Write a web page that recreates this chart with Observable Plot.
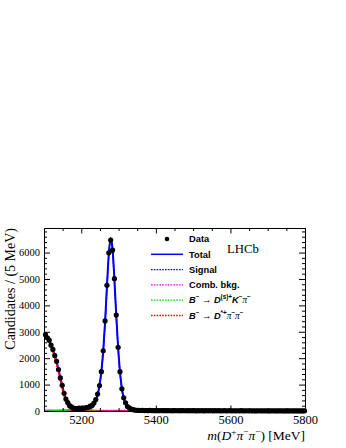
<!DOCTYPE html>
<html><head><meta charset="utf-8">
<script src="https://cdn.jsdelivr.net/npm/d3@7"></script>
<script src="https://cdn.jsdelivr.net/npm/@observablehq/plot@0.6"></script>
<style>html,body{margin:0;padding:0;background:#fff}</style>
</head><body><div id="chart"></div>
<script>
// ---- binning of the data histogram ----
const binLow = 5100, binWidth = 5;
// ---- data: candidates per 5 MeV bin, 5100-5800 MeV ----
const counts = [
  2910, 2790, 2700, 2510, 2350, 2120, 1900, 1590, 1270, 990,
  690, 470, 340, 220, 180, 130, 120, 110, 125, 115,
  130, 125, 150, 160, 200, 230, 320, 450, 660, 980,
  1510, 2300, 3430, 4780, 6010, 6490, 6110, 5030, 3650, 2430,
  1510, 860, 520, 330, 190, 140, 90, 70, 55, 48,
  42, 38, 40, 35, 37, 33, 39, 34, 36, 31,
  35, 33, 37, 30, 34, 32, 36, 29, 33, 31,
  34, 28, 32, 30, 35, 29, 31, 33, 28, 30,
  32, 27, 31, 29, 33, 26, 30, 28, 31, 29,
  27, 31, 28, 30, 26, 29, 31, 27, 28, 30,
  25, 29, 27, 28, 26, 30, 24, 27, 29, 26,
  28, 25, 27, 23, 28, 26, 24, 27, 25, 26,
  23, 27, 24, 25, 22, 26, 24, 25, 23, 26,
  22, 24, 25, 21, 24, 23, 25, 22, 23, 24
];
// ---- fit: total ----
const fitMass = [5100, 5102.5, 5107.5, 5112.5, 5117.5, 5122.5, 5127.5, 5132.5, 5137.5, 5142.5,
  5147.5, 5152.5, 5157.5, 5162.5, 5167.5, 5172.5, 5177.5, 5182.5, 5187.5, 5192.5,
  5197.5, 5202.5, 5207.5, 5212.5, 5217.5, 5222.5, 5227.5, 5232.5, 5237.5, 5242.5,
  5247.5, 5252.5, 5257.5, 5262.5, 5267.5, 5272.5, 5277.5, 5282.5, 5287.5, 5292.5,
  5297.5, 5302.5, 5307.5, 5312.5, 5317.5, 5322.5, 5327.5, 5332.5, 5337.5, 5342.5,
  5347.5, 5375, 5400, 5450, 5500, 5550, 5600, 5650, 5700, 5750, 5800];
const fitTotal = [2930, 2895, 2810, 2690, 2530, 2340, 2130, 1880, 1600, 1290,
  980, 700, 480, 330, 230, 170, 140, 125, 118, 117,
  120, 125, 133, 145, 163, 190, 235, 310, 440, 650,
  1000, 1520, 2300, 3400, 4750, 5980, 6560, 6150, 5000, 3620,
  2420, 1500, 880, 510, 310, 200, 135, 95, 70, 55,
  47, 40, 37, 35, 33, 31, 29.5, 28, 27, 26, 25];
// ---- fit: signal ----
const signalMass = [5100, 5192.5, 5197.5, 5202.5, 5207.5, 5212.5, 5217.5, 5222.5, 5227.5, 5232.5, 5237.5,
  5242.5, 5247.5, 5252.5, 5257.5, 5262.5, 5267.5, 5272.5, 5277.5, 5282.5, 5287.5,
  5292.5, 5297.5, 5302.5, 5307.5, 5312.5, 5317.5, 5322.5, 5327.5, 5332.5, 5337.5,
  5342.5, 5347.5, 5375, 5400, 5450, 5800];
const signalFit = [0, 1, 5, 12, 22, 37, 59, 93, 146, 231, 373,
  596, 956, 1481, 2261, 3361, 4711, 5942, 6522, 6112, 4962,
  3583, 2383, 1463, 843, 473, 273, 164, 99, 59, 34,
  19, 11, 4, 2, 1, 0];
// ---- fit: combinatorial background ----
const combMass = [5100, 5200, 5300, 5400, 5500, 5600, 5700, 5800];
const combFit = [44, 40, 37, 34, 32, 29.5, 27, 25];
// ---- fit: B- -> D(s)+ K- pi- ----
const dkpiMass = [5100, 5102.5, 5107.5, 5112.5, 5117.5, 5122.5, 5127.5, 5132.5, 5137.5, 5142.5,
  5147.5, 5152.5, 5157.5, 5162.5, 5167.5, 5172.5, 5177.5, 5182.5, 5187.5, 5192.5,
  5197.5, 5202.5, 5207.5, 5212.5, 5217.5, 5222.5, 5227.5, 5232.5, 5237.5, 5242.5,
  5247.5, 5252.5, 5300, 5800];
const dkpiFit = [9, 10, 12, 15, 18, 22, 26, 30, 35, 40,
  45, 50, 55, 60, 64, 67, 70, 72, 73, 74,
  74, 73, 71, 68, 64, 58, 50, 40, 28, 15,
  5, 0, 0, 0];
// ---- fit: B- -> D*+ pi- pi- ----
const dstMass = [5100, 5102.5, 5107.5, 5112.5, 5117.5, 5122.5, 5127.5, 5132.5, 5137.5, 5142.5,
  5147.5, 5152.5, 5157.5, 5162.5, 5167.5, 5172.5, 5177.5, 5182.5, 5187.5, 5192.5,
  5197.5, 5202.5, 5300, 5800];
const dstFit = [2880, 2846, 2754, 2631, 2468, 2275, 2061, 1807, 1522, 1208,
  893, 608, 383, 228, 125, 62, 29, 12, 5, 2,
  1, 0, 0, 0];
// ---- ticks ----
const xMajor = [5200, 5400, 5600, 5800];
const xMinor = [5150, 5250, 5300, 5350, 5450, 5500, 5550, 5650, 5700, 5750];
const yMajor = [0, 1000, 2000, 3000, 4000, 5000, 6000];
const yMinor = [200, 400, 600, 800, 1200, 1400, 1600, 1800, 2200, 2400, 2600, 2800,
  3200, 3400, 3600, 3800, 4200, 4400, 4600, 4800, 5200, 5400, 5600, 5800, 6200, 6400, 6600, 6800];
// ---- text ----
const yTitle = "Candidates / (5 MeV)";
const experiment = "LHCb";

const W = 346, H = 448, mL = 44, mR = 41, mT = 228, mB = 37;
const fw = W - mL - mR, fh = H - mT - mB;
const BLUE = "#0000ff", MAG = "#ff00ff", GREEN = "#00dd00", RED = "#ff0000";

const data = counts.map((n, i) => ({m: binLow + binWidth * (i + 0.5), n}));
const pairs = (xs, ys) => xs.map((m, i) => ({m, v: ys[i]}));
const dash = "2.2,1.4";

const plot = Plot.plot({
  width: W, height: H,
  marginLeft: mL, marginRight: mR, marginTop: mT, marginBottom: mB,
  x: {domain: [5100, 5800]},
  y: {domain: [0, 6930]},
  style: {fontFamily: "Liberation Serif", fontSize: "10px", color: "black", background: "white"},
  marks: [
    Plot.line(pairs(fitMass, fitTotal), {x: "m", y: "v", stroke: BLUE, strokeWidth: 2, curve: "monotone-x", clip: true}),
    Plot.line(pairs(signalMass, signalFit), {x: "m", y: "v", stroke: BLUE, strokeWidth: 1.4, strokeDasharray: dash, curve: "monotone-x", clip: true}),
    Plot.line(pairs(combMass, combFit), {x: "m", y: "v", stroke: MAG, strokeWidth: 1.6, strokeDasharray: dash, curve: "monotone-x", clip: true}),
    Plot.line(pairs(dkpiMass, dkpiFit), {x: "m", y: "v", stroke: GREEN, strokeWidth: 1.6, strokeDasharray: dash, curve: "monotone-x", clip: true}),
    Plot.line(pairs(dstMass, dstFit), {x: "m", y: "v", stroke: RED, strokeWidth: 1.8, strokeDasharray: dash, curve: "monotone-x", clip: true}),
    Plot.ruleX(data, {x: "m", y1: d => d.n - Math.sqrt(d.n), y2: d => d.n + Math.sqrt(d.n), stroke: "black", strokeWidth: 1}),
    Plot.dot(data, {x: "m", y: "n", r: 2.6, fill: "black", stroke: "none"}),
    Plot.frame({stroke: "black", strokeWidth: 1}),
    // ticks inside the frame on all four sides
    Plot.tickX(xMajor, {x: d => d, insetTop: fh - 5.5, stroke: "black"}),
    Plot.tickX(xMajor, {x: d => d, insetBottom: fh - 5.5, stroke: "black"}),
    Plot.tickX(xMinor, {x: d => d, insetTop: fh - 3, stroke: "black"}),
    Plot.tickX(xMinor, {x: d => d, insetBottom: fh - 3, stroke: "black"}),
    Plot.tickY(yMajor, {y: d => d, insetRight: fw - 6, stroke: "black"}),
    Plot.tickY(yMajor, {y: d => d, insetLeft: fw - 6, stroke: "black"}),
    Plot.tickY(yMinor, {y: d => d, insetRight: fw - 3, stroke: "black"}),
    Plot.tickY(yMinor, {y: d => d, insetLeft: fw - 3, stroke: "black"}),
    Plot.axisX({ticks: xMajor, tickSize: 0, tickPadding: 4, tickFormat: d => String(d), fontSize: 12.5, label: null}),
    Plot.axisY({ticks: yMajor, tickSize: 0, tickPadding: 4.5, tickFormat: d => String(d), fontSize: 10.5, label: null})
  ]
});
document.getElementById("chart").appendChild(plot);

// ---- rich text (titles, legend) ----
const svg = d3.select(plot);
function rich(x, y, segs, opts) {
  const fs = opts.fontSize;
  const t = svg.append("text").attr("x", x).attr("y", y)
    .attr("font-size", fs).attr("font-family", opts.family).attr("fill", "black")
    .attr("text-anchor", opts.anchor || "start");
  if (opts.weight) t.attr("font-weight", opts.weight);
  let off = 0;
  const shift = opts.shift || 0.42;
  for (const s of segs) {
    const ts = t.append("tspan").text(s.t);
    const target = s.sup ? -shift * fs : 0;
    if (target !== off) { ts.attr("dy", target - off); off = target; }
    if (s.sup) ts.attr("font-size", 0.68 * fs);
    if (s.it) ts.attr("font-style", "italic");
    if (s.fam) ts.attr("font-family", s.fam);
    if (s.w) ts.attr("font-weight", s.w);
  }
  return t;
}
// y title
svg.append("text").attr("transform", "translate(15,228) rotate(-90)")
  .attr("text-anchor", "end").attr("font-family", "Liberation Serif").attr("font-size", 14)
  .attr("fill", "black").text(yTitle);
// x title
rich(305, 440, [
  {t: "m", it: 1}, {t: "("}, {t: "D", it: 1}, {t: "+", sup: 1}, {t: "π", it: 1}, {t: "−", sup: 1},
  {t: "π", it: 1}, {t: "−", sup: 1}, {t: ") [MeV]"}
], {fontSize: 13.5, family: "Liberation Serif", anchor: "end", shift: 0.36});
// LHCb
svg.append("text").attr("x", 243).attr("y", 253).attr("font-family", "Liberation Serif")
  .attr("font-size", 12.8).attr("fill", "black").text(experiment);

// legend
const lx0 = 151, lx1 = 183, ltx = 189, ly0 = 239, ldy = 15.3;
const SER = "Liberation Serif";
const legend = [
  {kind: "dot", segs: [{t: "Data"}]},
  {kind: "line", color: BLUE, width: 1.5, segs: [{t: "Total"}]},
  {kind: "dash", color: BLUE, width: 1.3, segs: [{t: "Signal"}]},
  {kind: "dash", color: MAG, width: 1.3, segs: [{t: "Comb. bkg."}]},
  {kind: "dash", color: GREEN, width: 1.3, segs: [
    {t: "B", it: 1}, {t: "−", sup: 1}, {t: " → ", w: "normal"}, {t: "D", it: 1}, {t: "(s)+", sup: 1},
    {t: "K", it: 1}, {t: "−", sup: 1}, {t: "π", it: 1, fam: SER, w: "normal"}, {t: "−", sup: 1}]},
  {kind: "dash", color: RED, width: 1.3, segs: [
    {t: "B", it: 1}, {t: "−", sup: 1}, {t: " → ", w: "normal"}, {t: "D", it: 1}, {t: "*+", sup: 1},
    {t: "π", it: 1, fam: SER, w: "normal"}, {t: "−", sup: 1}, {t: "π", it: 1, fam: SER, w: "normal"}, {t: "−", sup: 1}]}
];
legend.forEach((row, i) => {
  const y = ly0 + i * ldy;
  if (row.kind === "dot") {
    svg.append("circle").attr("cx", (lx0 + lx1) / 2).attr("cy", y).attr("r", 2.3).attr("fill", "black");
  } else {
    const l = svg.append("line").attr("x1", lx0).attr("x2", lx1).attr("y1", y).attr("y2", y)
      .attr("stroke", row.color).attr("stroke-width", row.width);
    if (row.kind === "dash") l.attr("stroke-dasharray", "1.6,1.2");
  }
  rich(ltx, y + 3.2, row.segs, {fontSize: 9.3, family: "Liberation Sans", weight: "bold"});
});
</script>
</body></html>
